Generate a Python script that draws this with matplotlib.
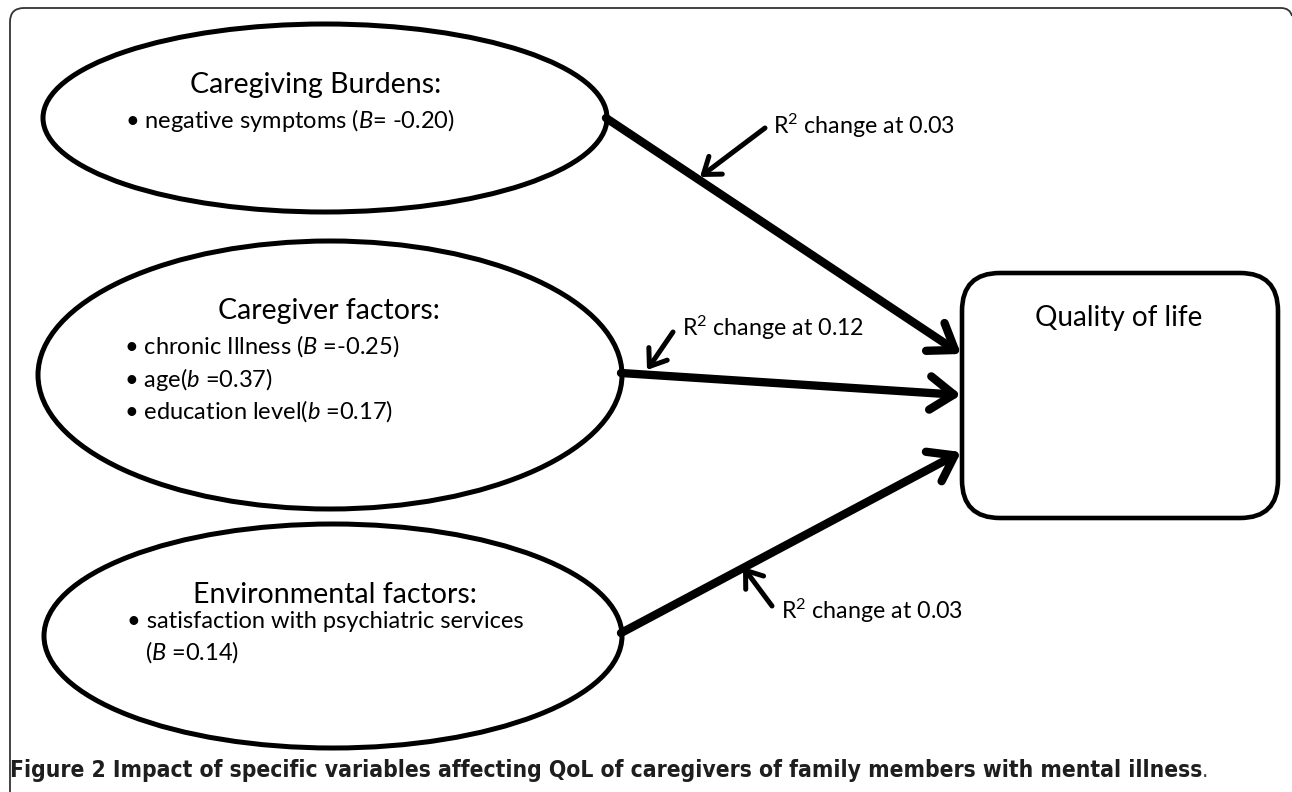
import matplotlib
matplotlib.use("Agg")
import matplotlib.pyplot as plt
from matplotlib.patches import Ellipse, FancyBboxPatch, FancyArrowPatch, PathPatch, ArrowStyle
from matplotlib.path import Path
from matplotlib import font_manager as fm

# ---------------- data ----------------
node_titles = ["Caregiving Burdens:", "Caregiver factors:", "Environmental factors:"]
node_items = [
    ["negative symptoms ($\\mathit{B}$= -0.20)"],
    ["chronic Illness ($\\mathit{B}$ =-0.25)", "age($\\mathit{b}$ =0.37)", "education level($\\mathit{b}$ =0.17)"],
    ["satisfaction with psychiatric services", "($\\mathit{B}$ =0.14)"],
]
node_item_bullet = [[True], [True, True, True], [True, False]]
r2_changes = ["0.03", "0.12", "0.03"]
outcome_label = "Quality of life"
caption_bold = "Figure 2"
caption_rest = " Impact of specific variables affecting QoL of caregivers of family members with mental illness"

# ---------------- fonts ----------------
def available(name, **kw):
    try:
        path = fm.findfont(fm.FontProperties(family=name, **kw), fallback_to_default=False)
        return path
    except Exception:
        return None

MAIN = "Lato" if available("Lato") else "DejaVu Sans"

CAP, CAP_STRETCH = "DejaVu Sans", "normal"
if available("Liberation Sans Narrow"):
    CAP = "Liberation Sans Narrow"
else:
    p = available("DejaVu Sans", stretch="condensed", weight="bold")
    if p and "ondensed" in p:
        CAP, CAP_STRETCH = "DejaVu Sans", "condensed"
    elif available("Roboto"):
        CAP = "Roboto"
    elif available("Liberation Sans"):
        CAP = "Liberation Sans"

plt.rcParams["mathtext.fontset"] = "custom"
plt.rcParams["mathtext.rm"] = MAIN
plt.rcParams["mathtext.it"] = MAIN + ":italic"
plt.rcParams["mathtext.bf"] = MAIN + ":bold"

W, H = 1292, 792
fig = plt.figure(figsize=(W / 100, H / 100), dpi=100)
ax = fig.add_axes([0, 0, 1, 1])
ax.set_xlim(0, W)
ax.set_ylim(H, 0)
ax.axis("off")
renderer = fig.canvas.get_renderer()


def fit_size(text, target_w, family, weight="normal", stretch="normal", base=20):
    t = ax.text(0, 0, text, fontsize=base, family=family, weight=weight, fontstretch=stretch)
    w = t.get_window_extent(renderer).width
    t.remove()
    return base * target_w / w

# ---------------- layout ----------------
ellipses = [((325, 118), 564, 188), ((330, 375), 584, 268), ((333, 636), 578, 224)]
title_pos = [(316, 93), (329, 319), (335, 603)]
item_x = [125, 124, 127]
item_y = [[128], [354, 387, 419], [628, 660]]
box = (962, 273, 316, 245)
main_arrows = [((606, 118), (961, 354)), ((621, 373), (961, 395)), ((621, 633), (961, 452))]
small_arrows = [((765, 128), (700, 177)), ((673, 332), (647, 370)), ((772, 606), (743, 567))]
label_pos = [(773, 134), (682, 336), (781, 619)]

title_fs = fit_size(node_titles[0], 252, MAIN)
item_fs = fit_size("\u2022 " + node_items[0][0], 330, MAIN)
label_fs = fit_size("R$^{2}$ change at " + r2_changes[0], 182, MAIN)
out_fs = fit_size(outcome_label, 168, MAIN)

# outer frame (open at right/bottom)
verts = [(10, 792), (10, 22), (10, 8), (24, 8), (1281, 8), (1290, 8), (1292, 16)]
codes = [Path.MOVETO, Path.LINETO, Path.CURVE3, Path.CURVE3, Path.LINETO, Path.CURVE3, Path.CURVE3]
ax.add_patch(PathPatch(Path(verts, codes), fill=False, lw=1.3, ec="#333333"))

# ellipses and texts
for i, ((cx, cy), w, h) in enumerate(ellipses):
    ax.add_patch(Ellipse((cx, cy), w, h, fill=False, lw=3.6, ec="black", zorder=3))
    tx, ty = title_pos[i]
    ax.text(tx, ty, node_titles[i], fontsize=title_fs, family=MAIN, ha="center", va="baseline")
    for j, item in enumerate(node_items[i]):
        if node_item_bullet[i][j]:
            s, x = "\u2022 " + item, item_x[i]
        else:
            s, x = item, item_x[i] + 18
        ax.text(x, item_y[i][j], s, fontsize=item_fs, family=MAIN, ha="left", va="baseline")

# outcome box
bx, by, bw_, bh = box
r = 38
ax.add_patch(FancyBboxPatch((bx + r, by + r), bw_ - 2 * r, bh - 2 * r,
                            boxstyle="round,pad=%d" % r, fill=False, lw=3.3, ec="black"))
ax.text(bx + bw_ / 2 - 1, 326, outcome_label, fontsize=out_fs, family=MAIN, ha="center", va="baseline")

# main arrows
for (a, b) in main_arrows:
    ax.add_patch(FancyArrowPatch(a, b, arrowstyle=ArrowStyle("->", head_length=17, head_width=12),
                                 mutation_scale=1, lw=6, color="black", shrinkA=0, shrinkB=0,
                                 capstyle="round", joinstyle="round", zorder=4))

# small arrows and labels
for k, (a, b) in enumerate(small_arrows):
    ax.add_patch(FancyArrowPatch(a, b, arrowstyle=ArrowStyle("->", head_length=11, head_width=8),
                                 mutation_scale=1, lw=3.6, color="black", shrinkA=0, shrinkB=0,
                                 capstyle="round", joinstyle="round", zorder=4))
    lx, ly = label_pos[k]
    ax.text(lx, ly, "R$^{2}$ change at " + r2_changes[k], fontsize=label_fs, family=MAIN,
            ha="left", va="baseline")

# caption
cap_fs = fit_size(caption_bold + caption_rest + ".", 1195, CAP, weight="bold", stretch=CAP_STRETCH, base=12)
t1 = ax.text(10, 777, caption_bold + caption_rest, fontsize=cap_fs, family=CAP, weight="bold",
             fontstretch=CAP_STRETCH, ha="left", va="baseline", color="#1e1e1e")
x_end = 10 + t1.get_window_extent(renderer).width
ax.text(x_end, 777, ".", fontsize=cap_fs, family=CAP, fontstretch=CAP_STRETCH,
        ha="left", va="baseline", color="#444444")

fig.savefig("out.png", dpi=100)
